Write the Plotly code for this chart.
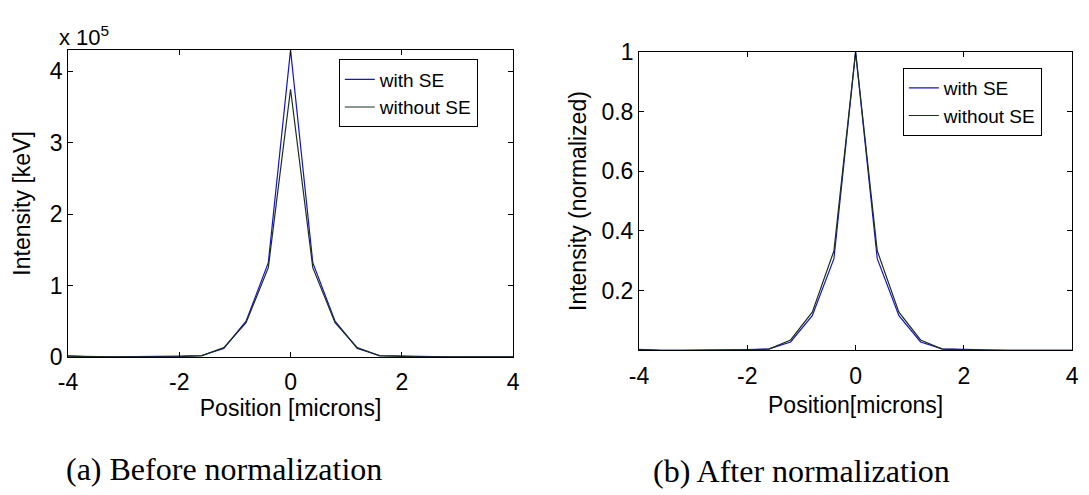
import plotly.graph_objects as go

# ---- data (intensity in units of 1e5 keV) ----
positions = [-4.0, -3.6, -3.2, -2.8, -2.4, -2.0, -1.6, -1.2, -0.8, -0.4, 0.0,
             0.4, 0.8, 1.2, 1.6, 2.0, 2.4, 2.8, 3.2, 3.6, 4.0]
with_se_e5 = [0.015, 0.0, 0.0, 0.0, 0.0, 0.01, 0.02, 0.12, 0.50, 1.32, 4.30,
              1.32, 0.50, 0.12, 0.02, 0.01, 0.0, 0.0, 0.0, 0.0, 0.0]
without_se_e5 = [0.01, 0.0, 0.0, 0.0, 0.0, 0.005, 0.015, 0.13, 0.48, 1.25, 3.75,
                 1.25, 0.48, 0.13, 0.015, 0.005, 0.0, 0.0, 0.0, 0.0, 0.0]
series_names = ["with SE", "without SE"]
x_ticks = [-4, -2, 0, 2, 4]
x_ticktext = ["-4", "-2", "0", "2", "4"]
y1_ticks_e5 = [0, 1, 2, 3, 4]
y2_ticks = [0.2, 0.4, 0.6, 0.8, 1.0]
y2_ticktext = ["0.2", "0.4", "0.6", "0.8", "1"]

with_se = [v * 1e5 for v in with_se_e5]
without_se = [v * 1e5 for v in without_se_e5]
with_norm = [v / max(with_se) for v in with_se]
without_norm = [v / max(without_se) for v in without_se]

W, H = 1089, 495
BLUE = "#1414c8"
DARK = "#1a301a"
SANS = "Liberation Sans, Arial, sans-serif"
SERIF = "Liberation Serif, Times New Roman, serif"

def px_x(p):
    return p / W

def px_y(p):
    return 1 - p / H

fig = go.Figure()
fig.add_trace(go.Scatter(x=positions, y=with_se, mode="lines", name=series_names[0],
                         line=dict(color=BLUE, width=1.2), xaxis="x", yaxis="y", legend="legend"))
fig.add_trace(go.Scatter(x=positions, y=without_se, mode="lines", name=series_names[1],
                         line=dict(color=DARK, width=1.2), xaxis="x", yaxis="y", legend="legend"))
fig.add_trace(go.Scatter(x=positions, y=with_norm, mode="lines", name=series_names[0],
                         line=dict(color=BLUE, width=1.2), xaxis="x2", yaxis="y2", legend="legend2"))
fig.add_trace(go.Scatter(x=positions, y=without_norm, mode="lines", name=series_names[1],
                         line=dict(color=DARK, width=1.2), xaxis="x2", yaxis="y2", legend="legend2"))

axis_common = dict(showline=True, linecolor="black", linewidth=1, mirror="ticks",
                   ticks="inside", ticklen=5, tickcolor="black", showgrid=False,
                   zeroline=False, tickfont=dict(family=SANS, size=23, color="black"))
title_font = dict(family=SANS, size=23, color="black")

fig.update_layout(
    width=W, height=H,
    margin=dict(l=0, r=0, t=0, b=0),
    paper_bgcolor="white", plot_bgcolor="white",
    xaxis=dict(domain=[px_x(59), px_x(511)], range=[-4, 4], anchor="y",
               tickvals=x_ticks, ticktext=x_ticktext, ticklabelstandoff=4,
               title=dict(text="Position [microns]", standoff=6, font=title_font),
               **axis_common),
    yaxis=dict(domain=[px_y(363), px_y(39)], range=[0, 4.3e5], anchor="x",
               tickvals=[v * 1e5 for v in y1_ticks_e5], ticktext=[str(v) for v in y1_ticks_e5],
               title=dict(text="Intensity [keV]", standoff=12, font=title_font),
               **axis_common),
    xaxis2=dict(domain=[px_x(639), px_x(1079)], range=[-4, 4], anchor="y2",
                tickvals=x_ticks, ticktext=x_ticktext, ticklabelstandoff=5,
                title=dict(text="Position[microns]", standoff=8, font=title_font),
                **axis_common),
    yaxis2=dict(domain=[px_y(356), px_y(41)], range=[0, 1], anchor="x2",
                tickvals=y2_ticks, ticktext=y2_ticktext,
                title=dict(text="Intensity (normalized)", standoff=8, font=title_font),
                **axis_common),
    legend=dict(x=px_x(334), y=px_y(49), xanchor="left", yanchor="top",
                bordercolor="black", borderwidth=1, bgcolor="white",
                font=dict(family=SANS, size=19, color="black"),
                tracegroupgap=0, itemwidth=30),
    legend2=dict(x=px_x(907), y=px_y(58), xanchor="left", yanchor="top",
                 bordercolor="black", borderwidth=1, bgcolor="white",
                 font=dict(family=SANS, size=19, color="black"),
                 tracegroupgap=0, itemwidth=30),
    annotations=[
        dict(text="x 10<sup>5</sup>", x=px_x(48), y=px_y(24), xref="paper", yref="paper",
             xanchor="left", yanchor="middle", showarrow=False,
             font=dict(family=SANS, size=22, color="black")),
        dict(text="(a) Before normalization", x=px_x(217), y=px_y(481), xref="paper", yref="paper",
             xanchor="center", yanchor="middle", showarrow=False,
             font=dict(family=SERIF, size=32, color="black")),
        dict(text="(b) After normalization", x=px_x(804), y=px_y(483), xref="paper", yref="paper",
             xanchor="center", yanchor="middle", showarrow=False,
             font=dict(family=SERIF, size=32, color="black")),
    ],
)

fig.write_html("out.html")
